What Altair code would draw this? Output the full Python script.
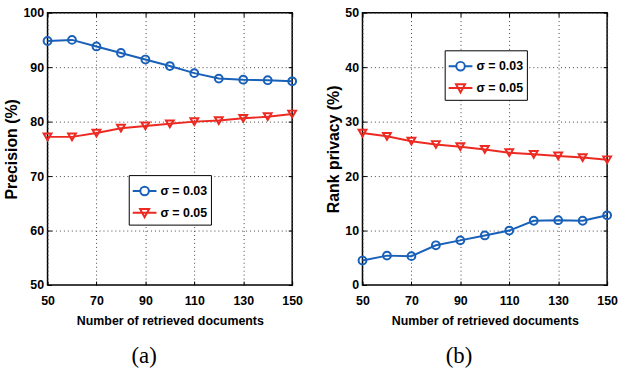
import altair as alt
import pandas as pd

docs = [50, 60, 70, 80, 90, 100, 110, 120, 130, 140, 150]
prec_003 = [94.8, 95.0, 93.8, 92.6, 91.4, 90.2, 88.9, 87.9, 87.7, 87.6, 87.4]
prec_005 = [77.2, 77.2, 77.9, 78.8, 79.2, 79.6, 80.0, 80.2, 80.6, 80.9, 81.4]
rank_003 = [4.5, 5.4, 5.3, 7.3, 8.2, 9.1, 10.0, 11.8, 11.9, 11.8, 12.8]
rank_005 = [27.9, 27.3, 26.4, 25.8, 25.4, 24.9, 24.3, 24.0, 23.7, 23.4, 23.0]
series = ["σ = 0.03", "σ = 0.05"]
colors = ["#1860b8", "#ec2a22"]
x_ticks = [50, 70, 90, 110, 130, 150]

FONT = "Liberation Sans"
FS = 12.5
circle_path = "M-1,0L-0.36,0M0.36,0L1,0M0.36,0A0.36,0.36 0 1 1 -0.36,0A0.36,0.36 0 1 1 0.36,0"
tri_path = "M-1,0L1,0M-0.38,-0.32L0.38,-0.32L0,0.38Z"


def tick_axis(orient, values):
    # ticks only, pushed inside the frame (Matlab style)
    return alt.Axis(orient=orient, values=values, offset=-4, ticks=True, tickSize=4,
                    tickColor="black", tickWidth=1, labels=False, grid=False,
                    domain=False, title=None)


def panel(v1, v2, ytitle, ydomain, yticks, caption, lx, ly):
    df = pd.DataFrame({
        "x": docs * 2,
        "y": v1 + v2,
        "s": [series[0]] * len(docs) + [series[1]] * len(docs),
    })
    base = alt.Chart(df)
    xs = alt.Scale(domain=[50, 150], nice=False)
    ys = alt.Scale(domain=ydomain, nice=False)
    cscale = alt.Scale(domain=series, range=colors)
    lines = base.mark_line(strokeWidth=2).encode(
        x=alt.X("x:Q", scale=xs, axis=alt.Axis(orient="bottom", values=x_ticks,
                                               title="Number of retrieved documents")),
        y=alt.Y("y:Q", scale=ys, axis=alt.Axis(orient="left", values=yticks, title=ytitle)),
        color=alt.Color("s:N", scale=cscale, legend=None))
    pts = base.mark_point(filled=False, strokeWidth=2, size=62, opacity=1).encode(
        x=alt.X("x:Q", scale=xs, axis=tick_axis("bottom", x_ticks)),
        y=alt.Y("y:Q", scale=ys, axis=tick_axis("left", yticks)),
        color=alt.Color("s:N", scale=cscale, legend=None),
        shape=alt.Shape("s:N", scale=alt.Scale(domain=series, range=["circle", "triangle-down"]), legend=None))
    leg_params = dict(title=None, orient="none", legendX=lx, legendY=ly,
                      strokeColor="black", fillColor="white", padding=3,
                      symbolSize=576, symbolStrokeWidth=2, labelFont=FONT,
                      labelFontSize=FS, labelFontWeight="bold", labelColor="black",
                      labelOffset=3, rowPadding=0, cornerRadius=0)
    leg = base.mark_point(filled=False, opacity=0).encode(
        x=alt.X("x:Q", scale=xs, axis=tick_axis("top", x_ticks)),
        y=alt.Y("y:Q", scale=ys, axis=tick_axis("right", yticks)),
        color=alt.Color("s:N", scale=cscale, legend=alt.Legend(**leg_params)),
        shape=alt.Shape("s:N", scale=alt.Scale(domain=series, range=[circle_path, tri_path]),
                        legend=alt.Legend(**leg_params)))
    return alt.layer(lines, pts, leg).resolve_scale(
        color="independent", shape="independent"
    ).resolve_axis(
        x="independent", y="independent"
    ).properties(
        width=247, height=275,
        title=alt.TitleParams(caption, orient="bottom", font="Liberation Serif",
                              fontSize=23, fontWeight="normal", color="black", dx=-26, offset=19),
    )


left = panel(prec_003, prec_005, "Precision (%)", [50, 100], [50, 60, 70, 80, 90, 100], "(a)", 82, 164)
right = panel(rank_003, rank_005, "Rank privacy (%)", [0, 50], [0, 10, 20, 30, 40, 50], "(b)", 83, 38)

chart = alt.hconcat(left, right, spacing=21).properties(
    padding={"left": 3, "top": 4, "right": 0, "bottom": 0},
    background="white",
).configure_view(
    stroke="black", strokeWidth=1.5
).configure_axis(
    domain=False, ticks=False, labelFlush=False, labelOverlap=False,
    grid=True, gridColor="#444", gridDash=[1, 3], gridWidth=1,
    labelFont=FONT, labelFontSize=FS, labelFontWeight="bold", labelColor="black",
    labelPadding=4,
    titleFont=FONT, titleFontSize=FS, titleFontWeight="bold", titleColor="black",
).configure_axisY(
    titleFontSize=16, titlePadding=3,
).configure_axisX(
    labelPadding=10, titlePadding=7,
)

chart.save("out.html", embed_options={"renderer": "svg", "actions": False})
